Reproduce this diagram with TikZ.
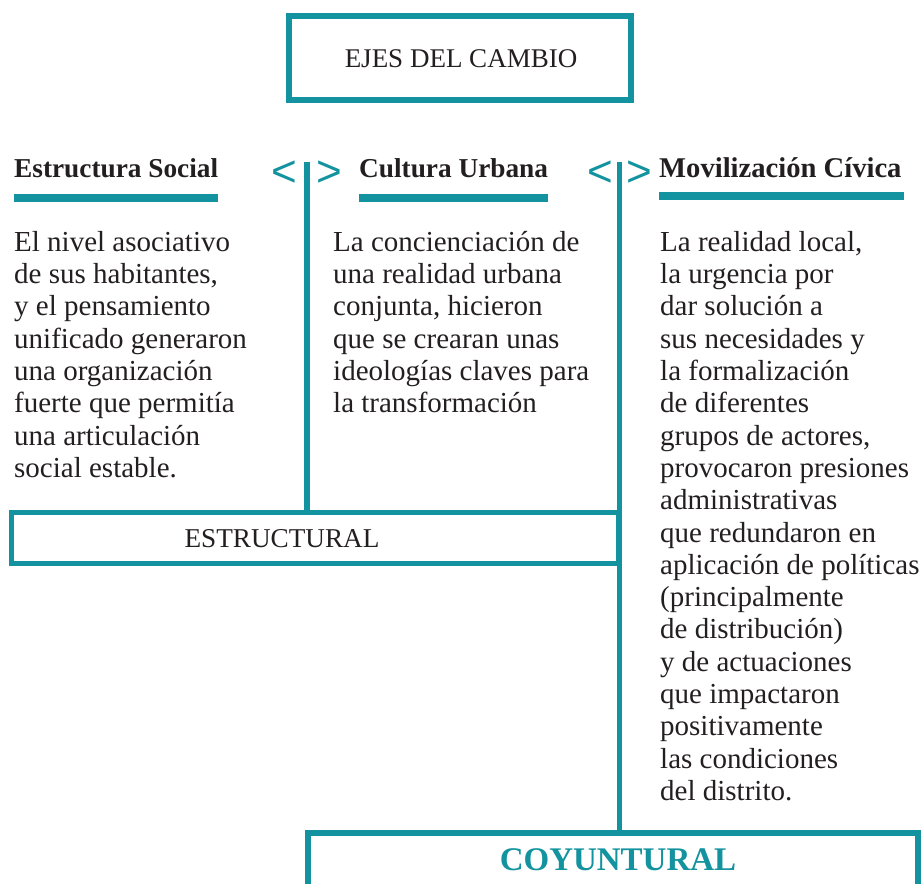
\documentclass[tikz,border=0pt]{standalone}
\usepackage{fontspec}
\setmainfont{Liberation Serif}
\newfontfamily\chevfont{Liberation Sans}
\definecolor{ejesteal}{RGB}{19,147,159}
\definecolor{ejestext}{RGB}{35,31,32}
\usetikzlibrary{positioning}

\tikzset{
  ejesbox/.style={draw=ejesteal, inner sep=0, fill=white},
  heading/.style={font=\fontsize{27.3}{27.3}\selectfont\bfseries, text=ejestext, inner sep=0, anchor=base west},
  bodytext/.style={font=\fontsize{29}{32.3}\selectfont, text=ejestext, align=left, inner sep=0, anchor=north west},
  chevron/.style={font=\chevfont\fontsize{44}{44}\selectfont, text=ejesteal, inner sep=0},
  axis/.style={draw=ejesteal, line width=5.5pt},
}

\begin{document}
\begin{tikzpicture}[x=1pt, y=-1pt]
  \useasboundingbox (0,0) rectangle (923,883);

  % title
  \node[ejesbox, line width=6pt, minimum width=342pt, minimum height=84pt] (ejes) at (460,58) {};
  \node[font=\fontsize{27}{27}\selectfont, text=ejestext, inner sep=0, anchor=base] (ejeslabel) at (461,67) {EJES DEL CAMBIO};

  % headings
  \node[heading] (social)  at (14,177)  {Estructura Social};
  \node[heading] (cultura) at (359,177) {Cultura Urbana};
  \node[heading, font=\fontsize{28.6}{28.6}\selectfont\bfseries] (civica) at (659,177) {Movilización Cívica};

  \fill[ejesteal] (14,194) rectangle (218,202);
  \fill[ejesteal] (359,194) rectangle (548,202);
  \fill[ejesteal] (659,192) rectangle (904,200);

  % separators
  \node[chevron] (lt1) at (284,174) {<};
  \node[chevron] (gt1) at (329,174) {>};
  \node[chevron] (lt2) at (600,174) {<};
  \node[chevron] (gt2) at (639,174) {>};
  \coordinate (sep1) at (307,162);
  \coordinate (sep2) at (619.5,162);

  % texts
  \node[bodytext] (socialtext) at (14,231) {El nivel asociativo\\de sus habitantes,\\y el pensamiento\\unificado generaron\\una organización\\fuerte que permitía\\una articulación\\social estable.};
  \node[bodytext] (culturatext) at (333,231) {La concienciación de\\una realidad urbana\\conjunta, hicieron\\que se crearan unas\\ideologías claves para\\la transformación};
  \node[bodytext] (civicatext) at (660,231) {La realidad local,\\la urgencia por\\dar solución a\\sus necesidades y\\la formalización\\de diferentes\\grupos de actores,\\provocaron presiones\\administrativas\\que redundaron en\\aplicación de políticas\\(principalmente\\de distribución)\\y de actuaciones\\que impactaron\\positivamente\\las condiciones\\del distrito.};

  % bottom boxes
  \node[ejesbox, line width=5pt, minimum width=607pt, minimum height=51pt] (estr) at (315,538) {};
  \node[font=\fontsize{27.2}{27.2}\selectfont, text=ejestext, inner sep=0, anchor=base] (estrlabel) at (282,547) {ESTRUCTURAL};

  \node[ejesbox, line width=6pt, minimum width=610pt, minimum height=67pt] (coy) at (613,866.5) {};
  \node[font=\fontsize{33}{33}\selectfont\bfseries, text=ejesteal, inner sep=0, anchor=base] (coylabel) at (618,870) {COYUNTURAL};

  \draw[axis] (sep1) -- (sep1 |- estr.north);
  \draw[axis] (sep2) -- (sep2 |- coy.north);

\end{tikzpicture}
\end{document}
